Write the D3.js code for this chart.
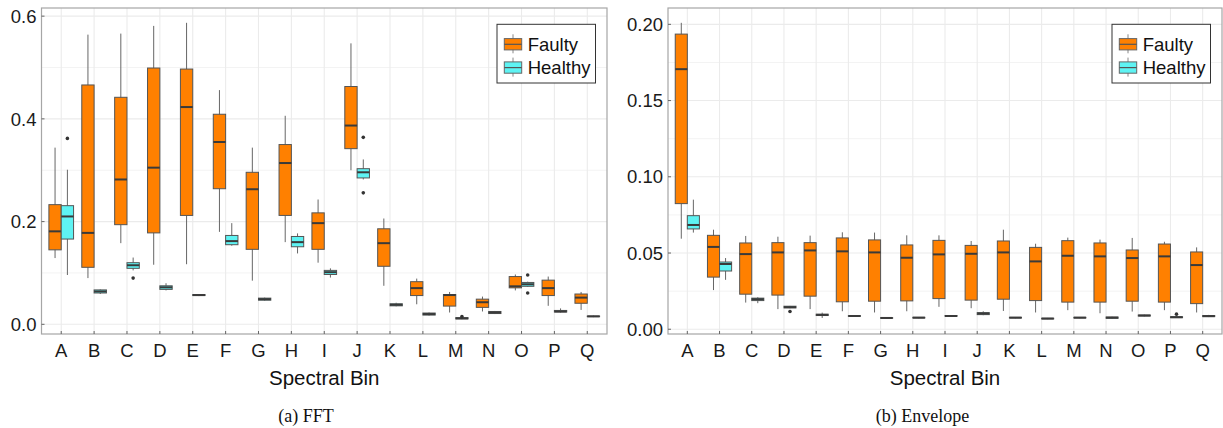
<!DOCTYPE html>
<html>
<head>
<meta charset="utf-8">
<script src="https://cdn.jsdelivr.net/npm/d3@7"></script>
<style>
  html, body { margin: 0; padding: 0; background: #fff; }
  svg { display: block; }
</style>
</head>
<body>
<svg id="chart" width="1223" height="428"></svg>
<script>
// Spectral bins on the x axis and the two machine states
const categories = ["A","B","C","D","E","F","G","H","I","J","K","L","M","N","O","P","Q"];
const groups = ["Faulty", "Healthy"];

// Box statistics per bin: [lower whisker, Q1, median, Q3, upper whisker]
const fftFaulty = [
  [0.129, 0.145, 0.181, 0.233, 0.344],
  [0.090, 0.111, 0.178, 0.466, 0.564],
  [0.158, 0.194, 0.282, 0.442, 0.566],
  [0.116, 0.178, 0.305, 0.499, 0.581],
  [0.117, 0.212, 0.423, 0.497, 0.587],
  [0.180, 0.264, 0.355, 0.409, 0.456],
  [0.085, 0.146, 0.263, 0.296, 0.344],
  [0.160, 0.212, 0.314, 0.350, 0.406],
  [0.120, 0.146, 0.197, 0.217, 0.243],
  [0.300, 0.342, 0.387, 0.463, 0.547],
  [0.075, 0.113, 0.158, 0.186, 0.206],
  [0.039, 0.056, 0.0705, 0.083, 0.089],
  [0.023, 0.0355, 0.057, 0.058, 0.063],
  [0.025, 0.033, 0.043, 0.049, 0.054],
  [0.066, 0.071, 0.074, 0.093, 0.097],
  [0.036, 0.056, 0.0705, 0.086, 0.093],
  [0.028, 0.041, 0.052, 0.059, 0.063]
];
const fftHealthy = [
  [0.096, 0.166, 0.210, 0.231, 0.301],
  [0.059, 0.061, 0.064, 0.067, 0.068],
  [0.105, 0.109, 0.115, 0.120, 0.130],
  [0.066, 0.068, 0.072, 0.075, 0.080],
  [0.055, 0.056, 0.057, 0.058, 0.059],
  [0.153, 0.155, 0.162, 0.173, 0.197],
  [0.046, 0.047, 0.049, 0.051, 0.052],
  [0.138, 0.151, 0.160, 0.171, 0.177],
  [0.091, 0.097, 0.1015, 0.105, 0.109],
  [0.282, 0.285, 0.296, 0.303, 0.321],
  [0.035, 0.036, 0.038, 0.040, 0.042],
  [0.017, 0.018, 0.020, 0.022, 0.023],
  [0.010, 0.0105, 0.0117, 0.013, 0.014],
  [0.020, 0.021, 0.023, 0.025, 0.026],
  [0.073, 0.074, 0.078, 0.0815, 0.083],
  [0.023, 0.024, 0.025, 0.027, 0.031],
  [0.014, 0.015, 0.0155, 0.016, 0.017]
];
// Outliers: [bin, value]
const fftFaultyOutliers = [];
const fftHealthyOutliers = [["A", 0.362], ["C", 0.090], ["J", 0.364], ["J", 0.256], ["M", 0.015], ["O", 0.096], ["O", 0.061]];

const envFaulty = [
  [0.0594, 0.0824, 0.1706, 0.1936, 0.2010],
  [0.0257, 0.0342, 0.0540, 0.0616, 0.0653],
  [0.0175, 0.0230, 0.0493, 0.0566, 0.0612],
  [0.0132, 0.0224, 0.0504, 0.0568, 0.0607],
  [0.0132, 0.0217, 0.0517, 0.0568, 0.0614],
  [0.0118, 0.0180, 0.0511, 0.0599, 0.0636],
  [0.0110, 0.0184, 0.0504, 0.0586, 0.0634],
  [0.0118, 0.0186, 0.0469, 0.0553, 0.0616],
  [0.0147, 0.0201, 0.0491, 0.0583, 0.0616],
  [0.0138, 0.0191, 0.0495, 0.0550, 0.0579],
  [0.0120, 0.0197, 0.0504, 0.0579, 0.0653],
  [0.0110, 0.0188, 0.0445, 0.0537, 0.0561],
  [0.0125, 0.0178, 0.0482, 0.0581, 0.0601],
  [0.0105, 0.0178, 0.0478, 0.0566, 0.0588],
  [0.0116, 0.0184, 0.0467, 0.0520, 0.0599],
  [0.0125, 0.0178, 0.0478, 0.0559, 0.0574],
  [0.0110, 0.0168, 0.0421, 0.0507, 0.0537]
];
const envHealthy = [
  [0.0634, 0.0658, 0.0684, 0.0745, 0.0850],
  [0.0324, 0.0382, 0.0428, 0.0441, 0.0467],
  [0.0171, 0.0188, 0.0197, 0.0204, 0.0210],
  [0.0138, 0.0140, 0.0145, 0.0151, 0.0153],
  [0.0074, 0.0090, 0.0094, 0.0099, 0.0109],
  [0.0083, 0.0085, 0.0087, 0.0089, 0.0091],
  [0.0070, 0.0072, 0.0074, 0.0076, 0.0078],
  [0.0072, 0.0074, 0.0076, 0.0078, 0.0080],
  [0.0083, 0.0085, 0.0087, 0.0090, 0.0092],
  [0.0092, 0.0096, 0.0103, 0.0109, 0.0118],
  [0.0072, 0.0074, 0.0076, 0.0078, 0.0080],
  [0.0066, 0.0068, 0.0070, 0.0072, 0.0074],
  [0.0072, 0.0074, 0.0076, 0.0078, 0.0080],
  [0.0070, 0.0072, 0.0076, 0.0080, 0.0082],
  [0.0084, 0.0087, 0.0090, 0.0093, 0.0096],
  [0.0074, 0.0076, 0.0079, 0.0082, 0.0084],
  [0.0080, 0.0083, 0.0086, 0.0090, 0.0094]
];
const envFaultyOutliers = [];
const envHealthyOutliers = [["D", 0.0116], ["P", 0.0099]];

// Tick values
const fftTicks = [0.0, 0.2, 0.4, 0.6];
const fftMinorTicks = [0.1, 0.3, 0.5];
const envTicks = [0.00, 0.05, 0.10, 0.15, 0.20];
const envMinorTicks = [0.025, 0.075, 0.125, 0.175];

const colors = { Faulty: "#ff8000", Healthy: "#5ef3f3" };
const xTitle = "Spectral Bin";

const svg = d3.select("#chart");
const FONT = "'Liberation Sans', Arial, Helvetica, sans-serif";

function panel(opts) {
  const { left, right, top, bottom, faulty, healthy, fOut, hOut, ticks, minor, fmt, caption, captionX } = opts;

  // y domain: data range padded by 5% each side
  const all = faulty.flat().concat(healthy.flat(), fOut.map(d => d[1]), hOut.map(d => d[1]));
  const [lo, hi] = d3.extent(all);
  const pad = (hi - lo) * 0.05;
  const y = d3.scaleLinear().domain([lo - pad, hi + pad]).range([bottom, top]);

  // discrete x with 0.6 band expansion on each side
  const x = d3.scalePoint().domain(categories).range([left, right]).padding(0.6);
  const step = x.step();
  const dodge = d3.scaleBand().domain(groups).range([-step * 0.375, step * 0.375]);

  const g = svg.append("g");

  // grid
  g.append("g").selectAll("line").data(minor).join("line")
    .attr("x1", left).attr("x2", right)
    .attr("y1", d => y(d)).attr("y2", d => y(d))
    .attr("stroke", "#f3f3f3").attr("stroke-width", 1);
  g.append("g").selectAll("line").data(ticks).join("line")
    .attr("x1", left).attr("x2", right)
    .attr("y1", d => y(d)).attr("y2", d => y(d))
    .attr("stroke", "#ebebeb").attr("stroke-width", 1.1);
  g.append("g").selectAll("line").data(categories).join("line")
    .attr("x1", d => x(d)).attr("x2", d => x(d))
    .attr("y1", top).attr("y2", bottom)
    .attr("stroke", "#ebebeb").attr("stroke-width", 1.1);

  // boxes
  const series = [
    { key: "Faulty", stats: faulty, out: fOut },
    { key: "Healthy", stats: healthy, out: hOut }
  ];
  series.forEach(s => {
    const bw = dodge.bandwidth();
    const sg = g.append("g");
    const items = s.stats.map((v, i) => ({ cat: categories[i], v }));
    const cx = d => x(d.cat) + dodge(s.key) + bw / 2;
    sg.selectAll("line.wh").data(items).join("line").attr("class", "wh")
      .attr("x1", cx).attr("x2", cx)
      .attr("y1", d => y(d.v[0])).attr("y2", d => y(d.v[4]))
      .attr("stroke", "#666").attr("stroke-width", 1);
    sg.selectAll("rect").data(items).join("rect")
      .attr("x", d => x(d.cat) + dodge(s.key))
      .attr("width", bw)
      .attr("y", d => y(d.v[3]))
      .attr("height", d => Math.max(0.5, y(d.v[1]) - y(d.v[3])))
      .attr("fill", colors[s.key])
      .attr("stroke", "#555").attr("stroke-width", 1);
    sg.selectAll("line.md").data(items).join("line").attr("class", "md")
      .attr("x1", d => x(d.cat) + dodge(s.key)).attr("x2", d => x(d.cat) + dodge(s.key) + bw)
      .attr("y1", d => y(d.v[2])).attr("y2", d => y(d.v[2]))
      .attr("stroke", "#3a3a3a").attr("stroke-width", 2);
    sg.selectAll("circle").data(s.out).join("circle")
      .attr("cx", d => x(d[0]) + dodge(s.key) + bw / 2)
      .attr("cy", d => y(d[1]))
      .attr("r", 1.8).attr("fill", "#333");
  });

  // panel border and inward ticks
  g.append("rect").attr("x", left).attr("y", top)
    .attr("width", right - left).attr("height", bottom - top)
    .attr("fill", "none").attr("stroke", "#a6a6a6").attr("stroke-width", 1.2);
  g.append("g").selectAll("line").data(ticks).join("line")
    .attr("x1", left).attr("x2", left + 3)
    .attr("y1", d => y(d)).attr("y2", d => y(d))
    .attr("stroke", "#666").attr("stroke-width", 1);
  g.append("g").selectAll("line").data(categories).join("line")
    .attr("x1", d => x(d)).attr("x2", d => x(d))
    .attr("y1", bottom).attr("y2", bottom - 3)
    .attr("stroke", "#666").attr("stroke-width", 1);

  // tick labels
  g.append("g").selectAll("text").data(ticks).join("text")
    .attr("x", left - 5).attr("y", d => y(d))
    .attr("dy", "0.36em")
    .attr("text-anchor", "end")
    .attr("font-family", FONT).attr("font-size", 18.5).attr("fill", "#1a1a1a")
    .text(fmt);
  g.append("g").selectAll("text").data(categories).join("text")
    .attr("x", d => x(d)).attr("y", 357.3)
    .attr("text-anchor", "middle")
    .attr("font-family", FONT).attr("font-size", 18.5).attr("fill", "#1a1a1a")
    .text(d => d);

  // axis title
  g.append("text")
    .attr("x", (left + right) / 2).attr("y", 384.5)
    .attr("text-anchor", "middle")
    .attr("font-family", FONT).attr("font-size", 20.5).attr("fill", "#111")
    .text(xTitle);

  // caption
  g.append("text")
    .attr("x", captionX).attr("y", 421.5)
    .attr("text-anchor", "middle")
    .attr("font-family", "'Liberation Serif', 'Times New Roman', serif")
    .attr("font-size", 18).attr("fill", "#111")
    .text(caption);

  // legend
  const lw = 98.5, lh = 58.7;
  const lx = right - 11.5 - lw, ly = 24.3;
  const lg = g.append("g").attr("transform", `translate(${lx},${ly})`);
  lg.append("rect").attr("width", lw).attr("height", lh)
    .attr("fill", "#fff").attr("stroke", "#333").attr("stroke-width", 1);
  groups.forEach((k, i) => {
    const cy = 20 + i * 23.3;
    const kx = 7.3, kw = 17.4;
    lg.append("line").attr("x1", kx + kw / 2).attr("x2", kx + kw / 2)
      .attr("y1", cy - 10).attr("y2", cy + 9).attr("stroke", "#888").attr("stroke-width", 1);
    lg.append("rect").attr("x", kx).attr("y", cy - 5.7).attr("width", kw).attr("height", 11.3)
      .attr("fill", colors[k]).attr("stroke", "#666").attr("stroke-width", 1);
    lg.append("line").attr("x1", kx).attr("x2", kx + kw)
      .attr("y1", cy).attr("y2", cy).attr("stroke", "#555").attr("stroke-width", 1.2);
    lg.append("text").attr("x", 30.7).attr("y", cy + 6.5)
      .attr("font-family", FONT).attr("font-size", 18.5).attr("fill", "#111")
      .text(k);
  });
}

panel({
  left: 41.5, right: 607, top: 8, bottom: 334,
  faulty: fftFaulty, healthy: fftHealthy, fOut: fftFaultyOutliers, hOut: fftHealthyOutliers,
  ticks: fftTicks, minor: fftMinorTicks, fmt: d3.format(".1f"),
  caption: "(a) FFT", captionX: 306
});
panel({
  left: 668, right: 1222, top: 8, bottom: 334,
  faulty: envFaulty, healthy: envHealthy, fOut: envFaultyOutliers, hOut: envHealthyOutliers,
  ticks: envTicks, minor: envMinorTicks, fmt: d3.format(".2f"),
  caption: "(b) Envelope", captionX: 922.5
});
</script>
</body>
</html>
